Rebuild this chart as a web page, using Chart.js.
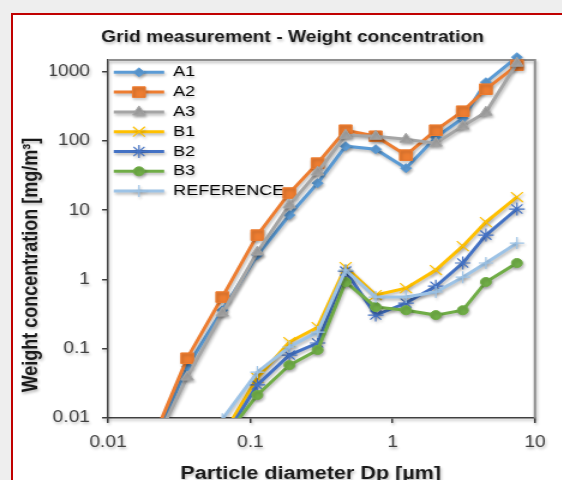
<!DOCTYPE html>
<html>
<head>
<meta charset="utf-8">
<script src="https://cdn.jsdelivr.net/npm/chart.js"></script>
<style>
html,body{margin:0;padding:0;width:562px;height:480px;overflow:hidden;background:#eeeeee;}
#frame{position:absolute;left:11px;top:13px;width:620px;height:520px;background:#ffffff;border:2px solid #c00000;box-sizing:border-box;}
#wrap{position:absolute;left:0;top:0;width:468px;height:480px;transform:scaleX(1.2);transform-origin:0 0;}
</style>
</head>
<body>
<div id="frame"></div>
<div id="wrap"><canvas id="c"></canvas></div>
<script>
// ---- data ----
const diameters = [0.021, 0.036, 0.0635, 0.112, 0.188, 0.297, 0.467, 0.76, 1.24, 2.01, 3.11, 4.52, 7.47];
const seriesNames = ['A1', 'A2', 'A3', 'B1', 'B2', 'B3', 'REFERENCE'];
const a1 = [0.0045, 0.055, 0.36, 2.25, 8.5, 24.6, 84, 76, 40.5, 113, 213, 705, 1620];
const a2 = [0.0053, 0.073, 0.557, 4.37, 17.7, 47.8, 143, 117, 62.4, 143, 269, 559, 1241];
const a3 = [0.0041, 0.039, 0.327, 2.49, 11.9, 35.5, 121, 117, 106, 93, 164, 260, 1327];
const b1 = [null, null, 0.0055, 0.038, 0.125, 0.205, 1.51, 0.596, 0.75, 1.37, 3.03, 6.73, 15.5];
const b2 = [null, null, 0.0047, 0.030, 0.081, 0.121, 1.32, 0.306, 0.457, 0.80, 1.73, 4.37, 10.4];
const b3 = [null, null, 0.0048, 0.0215, 0.058, 0.096, 0.92, 0.40, 0.36, 0.306, 0.36, 0.92, 1.73];
const reference = [null, null, 0.0096, 0.046, 0.106, 0.174, 1.37, 0.557, 0.557, 0.66, 1.08, 1.73, 3.35];
const xTicks = [0.01, 0.1, 1, 10];
const yTicks = [0.01, 0.1, 1, 10, 100, 1000];
const chartTitle = 'Grid measurement - Weight concentration';
const xTitle = 'Particle diameter Dp [µm]';
const yTitle = 'Weight concentration [mg/m³]';

// ---- styles ----
const seriesValues = [a1, a2, a3, b1, b2, b3, reference];
const styles = [
  {color: '#5B9BD5', pointStyle: 'rectRot', radius: 4.5, pbw: 1},
  {color: '#ED7D31', pointStyle: 'rect', radius: 7.5, pbw: 1},
  {color: '#A5A5A5', pointStyle: 'triangle', radius: 6, pbw: 1},
  {color: '#FFC000', pointStyle: 'crossRot', radius: 7, pbw: 1.2},
  {color: '#4472C4', pointStyle: 'star', radius: 6.5, pbw: 1.2},
  {color: '#70AD47', pointStyle: 'circle', radius: 4.5, pbw: 1},
  {color: '#9DC3E6', pointStyle: 'cross', radius: 6, pbw: 1.2}
];

const FONT = '"Liberation Sans", Arial, sans-serif';
Chart.defaults.font.family = FONT;

const datasets = seriesNames.map((name, i) => ({
  label: name,
  data: diameters.map((d, j) => ({x: d, y: seriesValues[i][j]})),
  borderColor: styles[i].color,
  backgroundColor: styles[i].color,
  pointBackgroundColor: styles[i].color,
  pointBorderColor: styles[i].color,
  pointStyle: styles[i].pointStyle,
  pointRadius: styles[i].radius,
  pointBorderWidth: styles[i].pbw,
  borderWidth: 3,
  tension: 0,
  spanGaps: false,
  order: seriesNames.length - i,
  clip: {left: 5, top: 12, right: 10, bottom: 0}
}));

const decor = {
  id: 'decor',
  afterLayout(chart) {
    // keep the legend at the top-left corner inside the plot area
    const lg = chart.legend;
    if (lg) {
      lg.top = chart.chartArea.top;
      lg.bottom = lg.top + lg.height;
    }
  },
  beforeDraw(chart) {
    // soft shadow like the reference's Excel effect
    const ctx = chart.ctx;
    ctx.shadowColor = 'rgba(0,0,0,0.28)';
    ctx.shadowBlur = 3;
    ctx.shadowOffsetX = 1;
    ctx.shadowOffsetY = 2;
  },
  beforeDatasetsDraw(chart) {
    const {ctx, chartArea: a} = chart;
    ctx.save();
    // plot frame top/right
    ctx.strokeStyle = '#8f8f8f';
    ctx.lineWidth = 2;
    ctx.beginPath();
    ctx.moveTo(a.left, a.top);
    ctx.lineTo(a.right, a.top);
    ctx.lineTo(a.right, a.bottom);
    ctx.stroke();
    // legend markers (Excel style: marker centred on the line sample)
    const lg = chart.legend;
    if (lg && lg.legendHitBoxes) {
      const bw = lg.options.labels.boxWidth;
      lg.legendHitBoxes.forEach((hb, i) => {
        const st = styles[i];
        const cx = hb.left + bw / 2;
        const cy = hb.top + hb.height / 2;
        ctx.fillStyle = st.color;
        ctx.strokeStyle = st.color;
        ctx.lineWidth = st.pbw;
        Chart.helpers.drawPoint(ctx, {pointStyle: st.pointStyle, radius: st.radius, rotation: 0, borderWidth: st.pbw}, cx, cy);
      });
    }
    ctx.restore();
  },
  afterDraw(chart) {
    const {ctx, chartArea: a} = chart;
    ctx.save();
    ctx.fillStyle = '#1a1a1a';
    ctx.font = 'bold 18px ' + FONT;
    ctx.textAlign = 'center';
    ctx.textBaseline = 'alphabetic';
    ctx.fillText(xTitle, (a.left + a.right) / 2 - 9, chart.height - 1);
    ctx.translate(a.left - 58.75, (a.top + a.bottom) / 2 + 26);
    ctx.rotate(-Math.PI / 2);
    ctx.fillText(yTitle, 0, 0);
    ctx.restore();
  }
};

new Chart(document.getElementById('c'), {
  type: 'line',
  data: {datasets},
  plugins: [decor],
  options: {
    responsive: true,
    maintainAspectRatio: false,
    animation: false,
    events: [],
    layout: {padding: {left: 41.7, right: 22.2, top: 0, bottom: 0}},
    plugins: {
      title: {
        display: true,
        text: chartTitle,
        color: '#1a1a1a',
        font: {size: 16, weight: 'bold'},
        padding: {top: 28, bottom: 12.8}
      },
      legend: {
        position: 'chartArea',
        align: 'start',
        labels: {
          boxWidth: 42,
          boxHeight: 3,
          padding: 4.8,
          color: '#333333',
          font: {size: 15},
          generateLabels(chart) {
            return chart.data.datasets.map((ds, i) => ({
              text: ds.label,
              fillStyle: ds.borderColor,
              strokeStyle: ds.borderColor,
              lineWidth: 0,
              hidden: false,
              datasetIndex: i
            }));
          }
        }
      },
      tooltip: {enabled: false}
    },
    scales: {
      x: {
        type: 'logarithmic',
        min: 0.01,
        max: 10,
        afterBuildTicks: s => { s.ticks = xTicks.map(v => ({value: v})); },
        afterFit: s => { s.height = 62; },
        ticks: {callback: v => String(v), color: '#404040', font: {size: 16}, padding: 10, maxRotation: 0, autoSkip: false},
        grid: {drawOnChartArea: false, drawTicks: true, tickLength: 5, color: '#404040', lineWidth: 1.5},
        border: {color: '#404040', width: 1.5}
      },
      y: {
        type: 'logarithmic',
        min: 0.01,
        max: 1475,
        afterBuildTicks: s => { s.ticks = yTicks.map(v => ({value: v})); },
        afterFit: s => { s.width = 48.3; },
        ticks: {callback: v => String(v), color: '#404040', font: {size: 16}, padding: 10, autoSkip: false},
        grid: {drawOnChartArea: false, drawTicks: true, tickLength: 5, color: '#404040', lineWidth: 1.5},
        border: {color: '#404040', width: 1.5}
      }
    }
  }
});
</script>
</body>
</html>
